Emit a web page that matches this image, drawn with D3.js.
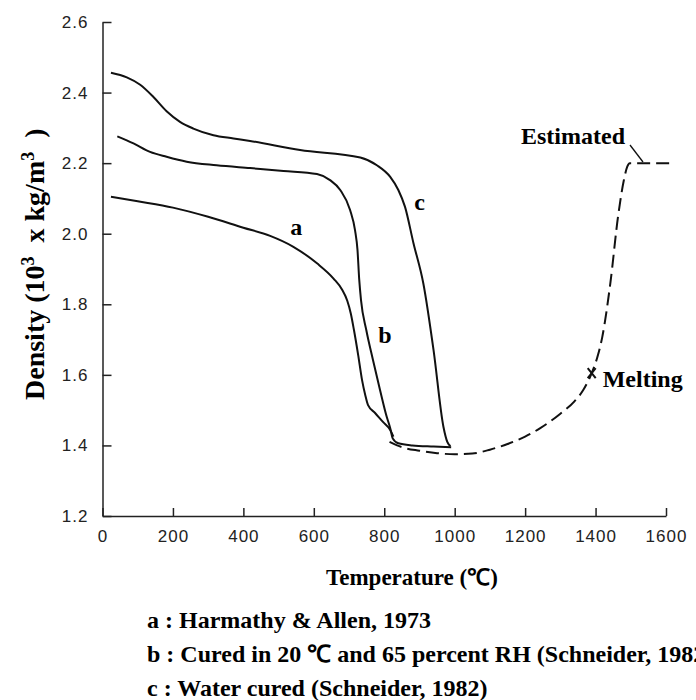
<!DOCTYPE html>
<html>
<head>
<meta charset="utf-8">
<title>Density vs temperature</title>
<style>
  body { margin: 0; background: #fff; }
  svg { display: block; }
  .tick text { font-family: 'Liberation Sans', Arial, sans-serif; font-size: 17px; letter-spacing: 1px; fill: #222; }
  .axis path, .axis line { stroke: #222; stroke-width: 1.5px; }
  .lbl { font-family: 'Liberation Serif', 'Times New Roman', serif; font-weight: bold; fill: #000; }
  .curve { fill: none; stroke: #111; stroke-width: 2px; }
</style>
</head>
<body>
<svg width="696" height="700"></svg>
<script src="https://cdn.jsdelivr.net/npm/d3@7"></script>
<script>

// values (temperature in C, density in 10^3 kg/m^3)
var tempA = [24, 100, 200, 300, 400, 476, 542, 609, 656, 680, 695, 705, 714, 726, 737, 746, 754, 774, 797, 817, 826];
var densA = [2.105, 2.092, 2.074, 2.048, 2.017, 1.994, 1.963, 1.916, 1.873, 1.842, 1.81, 1.774, 1.727, 1.656, 1.585, 1.543, 1.514, 1.492, 1.466, 1.444, 1.425];

var tempB = [42, 88, 135, 182, 239, 324, 419, 514, 609, 646, 675, 703, 717, 724, 729, 734, 749, 768, 788, 807, 817, 824, 840, 880, 940, 990];
var densB = [2.276, 2.256, 2.232, 2.218, 2.204, 2.194, 2.186, 2.178, 2.169, 2.152, 2.124, 2.067, 2.01, 1.954, 1.869, 1.812, 1.727, 1.642, 1.557, 1.481, 1.449, 1.42, 1.406, 1.4, 1.397, 1.395];

var tempC = [24, 69, 107, 144, 182, 220, 258, 315, 372, 419, 561, 732, 779, 817, 840, 859, 883, 911, 940, 968, 979, 988];
var densC = [2.456, 2.443, 2.422, 2.388, 2.347, 2.317, 2.298, 2.279, 2.27, 2.263, 2.237, 2.216, 2.194, 2.161, 2.124, 2.076, 1.973, 1.859, 1.67, 1.453, 1.41, 1.398];

var tempEst = [815, 850, 900, 950, 1000, 1050, 1100, 1150, 1200, 1243, 1300, 1340, 1365, 1389, 1405, 1419, 1442, 1464, 1480, 1490, 1497, 1520, 1612];
var densEst = [1.41, 1.395, 1.385, 1.378, 1.375, 1.377, 1.388, 1.404, 1.425, 1.449, 1.49, 1.525, 1.557, 1.605, 1.65, 1.707, 1.86, 2.05, 2.15, 2.19, 2.2, 2.2, 2.2];

var xTicks = [0, 200, 400, 600, 800, 1000, 1200, 1400, 1600];
var yTicks = [1.2, 1.4, 1.6, 1.8, 2.0, 2.2, 2.4, 2.6];

var meltPoint = [1389, 1.605];
var curveLabels = [
  {text: "a", t: 533, v: 1.996},
  {text: "b", t: 783, v: 1.69},
  {text: "c", t: 885, v: 2.067}
];
var legendLines = [
  "a : Harmathy & Allen, 1973",
  "b : Cured in 20 \u2103 and 65 percent RH (Schneider, 1982)",
  "c : Water cured (Schneider, 1982)"
];

var svg = d3.select("svg");

var x = d3.scaleLinear().domain([0, 1600]).range([102.5, 666]),
    y = d3.scaleLinear().domain([1.2, 2.6]).range([516, 22]);

svg.append("g")
    .attr("class", "axis")
    .attr("transform", "translate(0,516)")
    .call(d3.axisBottom(x).tickValues(xTicks).tickFormat(d3.format("d")).tickSizeInner(-8).tickSizeOuter(0).tickPadding(14));

svg.append("g")
    .attr("class", "axis")
    .attr("transform", "translate(102.5,0)")
    .call(d3.axisLeft(y).tickValues(yTicks).tickFormat(d3.format(".1f")).tickSizeInner(-9).tickSizeOuter(0).tickPadding(14));

var line = d3.line()
    .x(function(d) { return x(d[0]); })
    .y(function(d) { return y(d[1]); })
    .curve(d3.curveMonotoneX);

function pairs(ts, vs) { return ts.map(function(t, i) { return [t, vs[i]]; }); }

svg.append("path").attr("class", "curve").attr("d", line(pairs(tempA, densA)));
svg.append("path").attr("class", "curve").attr("d", line(pairs(tempB, densB)));
svg.append("path").attr("class", "curve").attr("d", line(pairs(tempC, densC)));
svg.append("path").attr("class", "curve")
    .attr("stroke-dasharray", "13,6")
    .attr("d", line(pairs(tempEst, densEst)));

// melting cross
var mx = x(meltPoint[0]), my = y(meltPoint[1]);
svg.append("path").attr("class", "curve").attr("stroke-width", 1.5)
    .attr("d", "M" + (mx - 4) + "," + (my - 5) + "L" + (mx + 4) + "," + (my + 5) +
               "M" + (mx + 4) + "," + (my - 5) + "L" + (mx - 4) + "," + (my + 5));
svg.append("text").attr("class", "lbl").attr("x", mx + 11).attr("y", my + 14)
    .style("font-size", "24px").text("Melting");

// estimated label and leader
svg.append("text").attr("class", "lbl").attr("x", 625).attr("y", 144)
    .attr("text-anchor", "end").style("font-size", "24px").text("Estimated");
svg.append("line").attr("x1", 630).attr("y1", 145).attr("x2", 643).attr("y2", 162)
    .attr("stroke", "#111").attr("stroke-width", 1.3);

svg.selectAll(".clbl").data(curveLabels).enter().append("text")
    .attr("class", "lbl")
    .attr("x", function(d) { return x(d.t); })
    .attr("y", function(d) { return y(d.v); })
    .style("font-size", "24px")
    .text(function(d) { return d.text; });

// axis titles
svg.append("text").attr("class", "lbl").attr("x", 326).attr("y", 585)
    .style("font-size", "23px").text("Temperature (\u2103)");

var yt = svg.append("text").attr("class", "lbl")
    .attr("transform", "translate(44,400) rotate(-90)")
    .attr("xml:space", "preserve")
    .style("font-size", "28px");
yt.append("tspan").text("Density (10");
yt.append("tspan").attr("baseline-shift", "super").style("font-size", "18px").text("3");
yt.append("tspan").text("\u00a0 x kg/m");
yt.append("tspan").attr("baseline-shift", "super").style("font-size", "18px").text("3");
yt.append("tspan").text("\u00a0 )");

svg.selectAll(".leg").data(legendLines).enter().append("text")
    .attr("class", "lbl")
    .attr("x", 147)
    .attr("y", function(d, i) { return 628 + i * 34; })
    .style("font-size", "24px")
    .text(function(d) { return d; });

</script>
</body>
</html>
